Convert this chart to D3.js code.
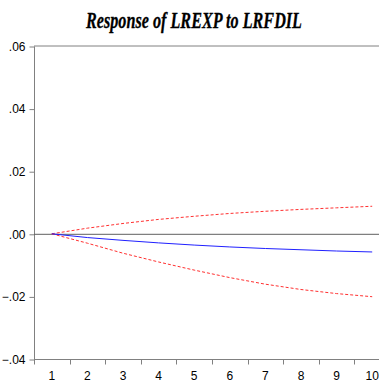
<!DOCTYPE html>
<html>
<head>
<meta charset="utf-8">
<script src="https://cdn.jsdelivr.net/npm/d3@7"></script>
<style>
  body { margin: 0; background: #fff; }
  svg { display: block; }
</style>
</head>
<body>
<div id="chart"></div>
<script>
// periods and impulse response (with +/- 2 s.e. bands)
var periods = [1, 2, 3, 4, 5, 6, 7, 8, 9, 10];
var response = [0, -0.0012, -0.0021, -0.0029, -0.0036, -0.0042, -0.0047, -0.0051, -0.0055, -0.0058];
var upper = [0, 0.0018, 0.0033, 0.0046, 0.0056, 0.0065, 0.0072, 0.0078, 0.0083, 0.0088];
var lower = [0, -0.0030, -0.0062, -0.0090, -0.0116, -0.0140, -0.0161, -0.0178, -0.0191, -0.0201];
var y_ticks = [-0.04, -0.02, 0, 0.02, 0.04, 0.06];

var svg_width = 379, svg_height = 385;
var left = 34, top_y = 46, bottom_y = 359;
var band = 35.6;

var svg = d3.select("#chart").append("svg")
    .attr("width", svg_width)
    .attr("height", svg_height);

var x = d3.scaleBand()
    .domain(periods)
    .range([left, left + band * periods.length])
    .padding(0);
var y = d3.scaleLinear()
    .domain([-0.04, 0.06])
    .range([bottom_y, top_y]);

// title
svg.append("text")
    .attr("x", 194).attr("y", 28)
    .attr("text-anchor", "middle")
    .attr("textLength", 216)
    .attr("lengthAdjust", "spacingAndGlyphs")
    .style("font-family", "'Liberation Serif', 'Times New Roman', serif")
    .style("font-weight", "bold")
    .style("font-style", "italic")
    .style("font-size", "24px")
    .style("stroke", "#000")
    .style("stroke-width", 0.3)
    .text("Response of LREXP to LRFDIL");

var axis_color = "#808080";

// top frame line
svg.append("line")
    .attr("x1", left).attr("x2", svg_width)
    .attr("y1", y(0.06)).attr("y2", y(0.06))
    .style("stroke", axis_color).style("stroke-width", 1);

// y axis
var yAxis = d3.axisLeft(y)
    .tickValues(y_ticks)
    .tickSize(5)
    .tickFormat(d => d3.format(".2f")(d).replace("0.", "."));
var gy = svg.append("g")
    .attr("transform", "translate(" + (left + 0.5) + ",0.5)")
    .call(yAxis);
gy.select(".domain").attr("d", "M0," + top_y + "V" + bottom_y).style("stroke", axis_color);
gy.selectAll(".tick line").style("stroke", axis_color);
gy.selectAll(".tick text")
    .attr("x", -9)
    .style("font-family", "'Liberation Sans', Arial, sans-serif")
    .style("font-size", "12px")
    .style("fill", "#000");

// x axis: ticks at band edges, labels at band centres
var gx = svg.append("g")
    .attr("transform", "translate(0," + (bottom_y + 0.5) + ")");
gx.append("line")
    .attr("x1", left).attr("x2", svg_width)
    .style("stroke", axis_color);
gx.selectAll(".xt")
    .data(periods)
    .join("line")
    .attr("class", "xt")
    .attr("x1", d => Math.round(x(d)) + 0.5)
    .attr("x2", d => Math.round(x(d)) + 0.5)
    .attr("y1", 0).attr("y2", 5)
    .style("stroke", axis_color);
gx.selectAll(".xl")
    .data(periods)
    .join("text")
    .attr("class", "xl")
    .attr("x", d => x(d) + x.bandwidth() / 2)
    .attr("y", 20)
    .attr("text-anchor", "middle")
    .style("font-family", "'Liberation Sans', Arial, sans-serif")
    .style("font-size", "12px")
    .text(d => d);

// zero line
svg.append("line")
    .attr("x1", left).attr("x2", svg_width)
    .attr("y1", y(0) + 0.5).attr("y2", y(0) + 0.5)
    .style("stroke", "#606060").style("stroke-width", 1);

var line = d3.line()
    .x((d, i) => x(periods[i]) + x.bandwidth() / 2)
    .y(d => y(d));

svg.append("path")
    .datum(upper)
    .attr("d", line)
    .style("fill", "none")
    .style("stroke", "#ff3030")
    .style("stroke-width", 1)
    .style("stroke-dasharray", "3,2");
svg.append("path")
    .datum(lower)
    .attr("d", line)
    .style("fill", "none")
    .style("stroke", "#ff3030")
    .style("stroke-width", 1)
    .style("stroke-dasharray", "3,2");
svg.append("path")
    .datum(response)
    .attr("d", line)
    .style("fill", "none")
    .style("stroke", "#2020ff")
    .style("stroke-width", 1);
</script>
</body>
</html>
